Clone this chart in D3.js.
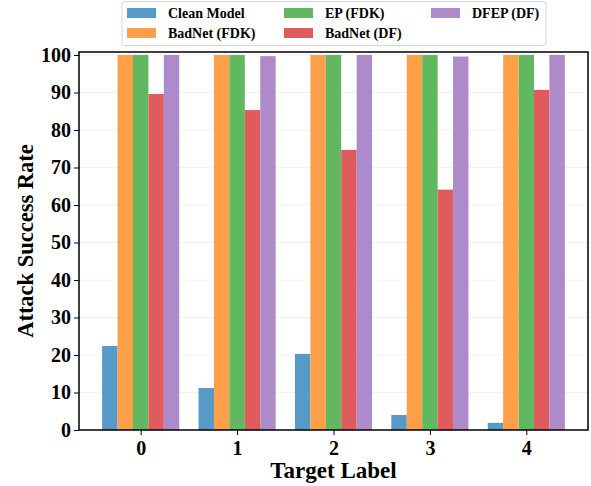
<!DOCTYPE html>
<html>
<head>
<script src="https://d3js.org/d3.v7.min.js"></script>
<style>
  body { margin: 0; background: #fff; }
  text { font-family: "Liberation Serif", "Times New Roman", serif; font-weight: bold; }
</style>
</head>
<body>
<div id="chart"></div>
<script>
// Data
const targets = ["0", "1", "2", "3", "4"];
const seriesNames = ["Clean Model", "BadNet (FDK)", "EP (FDK)", "BadNet (DF)", "DFEP (DF)"];
const cleanModel = [22.4, 11.2, 20.3, 4.0, 1.9];
const badnetFDK = [100, 100, 100, 100, 100];
const epFDK = [100, 100, 100, 100, 100];
const badnetDF = [89.6, 85.3, 74.7, 64.1, 90.7];
const dfepDF = [100, 99.7, 100, 99.6, 100];
const yTicks = [0, 10, 20, 30, 40, 50, 60, 70, 80, 90, 100];
const colors = ["#5799c7", "#ff9f4a", "#61b861", "#e05c5c", "#ad8bcb"];

const series = [cleanModel, badnetFDK, epFDK, badnetDF, dfepDF];

const W = 591, H = 486;
const margin = {top: 52, right: 3, bottom: 56, left: 79};
const width = W - margin.left - margin.right;
const height = H - margin.top - margin.bottom;

const svg = d3.select("#chart").append("svg")
    .attr("width", W).attr("height", H);
const g = svg.append("g").attr("transform", `translate(${margin.left},${margin.top})`);

// numeric x like matplotlib: groups at 0..4, bars of width 0.16
const x = d3.scaleLinear().domain([-0.64, 4.64]).range([0, width]);
const y = d3.scaleLinear().domain([0, 100.8]).range([height, 0]);
const barW = 0.16;

// faint grid
g.append("g").selectAll("line").data(yTicks).join("line")
    .attr("x1", 0).attr("x2", width)
    .attr("y1", d => y(d)).attr("y2", d => y(d))
    .attr("stroke", "#f0f0f0").attr("stroke-width", 1);

// bars
series.forEach((vals, si) => {
  g.append("g").selectAll("rect").data(vals).join("rect")
      .attr("x", (d, i) => x(i + (si - 2.5) * barW))
      .attr("width", x(barW) - x(0))
      .attr("y", d => y(d))
      .attr("height", d => y(0) - y(d))
      .attr("fill", colors[si]);
});

// axes
const yAxis = g.append("g")
    .call(d3.axisLeft(y).tickValues(yTicks).tickSize(5).tickPadding(3));
const xAxis = g.append("g").attr("transform", `translate(0,${height})`)
    .call(d3.axisBottom(x).tickValues(targets.map((t, i) => i))
      .tickFormat((d, i) => targets[i]).tickSize(5).tickPadding(6));
[xAxis, yAxis].forEach(a => {
  a.select(".domain").remove();
  a.selectAll("text").attr("font-size", 20).attr("fill", "#000")
    .style("font-family", '"Liberation Serif", serif').style("font-weight", "bold");
  a.selectAll("line").attr("stroke", "#000").attr("stroke-width", 1);
});

// spines
g.append("rect").attr("x", 0).attr("y", 0).attr("width", width).attr("height", height)
    .attr("fill", "none").attr("stroke", "#000").attr("stroke-width", 1.5);

// axis labels
svg.append("text")
    .attr("x", margin.left + width / 2).attr("y", 478)
    .attr("text-anchor", "middle").attr("font-size", 23).text("Target Label");
svg.append("text")
    .attr("transform", `translate(33,${margin.top + height / 2}) rotate(-90)`)
    .attr("text-anchor", "middle").attr("font-size", 22.5).text("Attack Success Rate");

// legend
const legend = svg.append("g");
legend.append("rect").attr("x", 122).attr("y", 1.5).attr("width", 424).attr("height", 44)
    .attr("rx", 3).attr("fill", "#fff").attr("stroke", "#d6d6d6");
const colX = [127, 284, 431];
const rowY = [8, 28];
seriesNames.forEach((name, i) => {
  const c = Math.floor(i / 2), r = i % 2;
  legend.append("rect").attr("x", colX[c]).attr("y", rowY[r])
      .attr("width", 29).attr("height", 10).attr("fill", colors[i]);
  legend.append("text").attr("x", colX[c] + 41).attr("y", rowY[r] + 10)
      .attr("font-size", 14).text(name);
});
</script>
</body>
</html>
